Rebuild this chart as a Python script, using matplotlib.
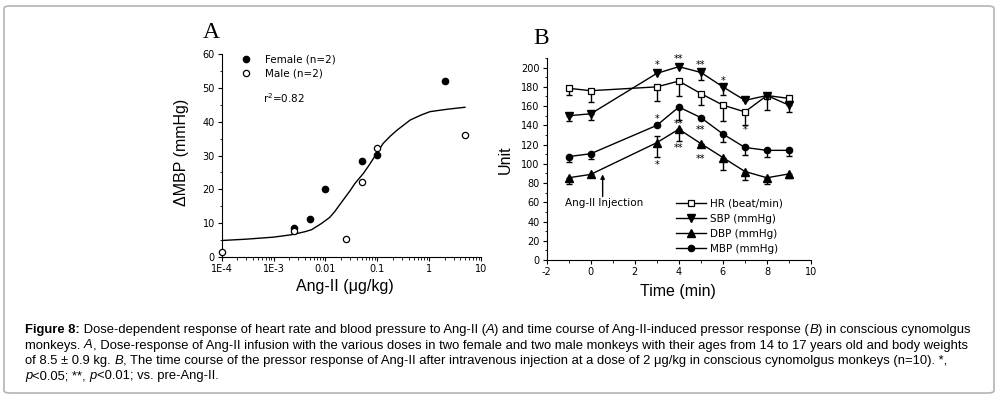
import matplotlib
matplotlib.use("Agg")
import matplotlib.pyplot as plt
from matplotlib.patches import FancyBboxPatch
from matplotlib.ticker import FixedLocator, NullFormatter, MultipleLocator

plt.rcParams["axes.unicode_minus"] = False

# ---- panel A: dose response ----
dose_female = [0.0025, 0.005, 0.01, 0.05, 0.1, 2]
mbp_female = [8.4, 11.2, 20, 28.4, 30.1, 52]
dose_male = [1e-4, 0.0025, 0.025, 0.05, 0.1, 5]
mbp_male = [1.5, 7.7, 5.2, 22.2, 32.1, 36]
fit_dose = [1e-4, 3e-4, 1e-3, 2.2e-3, 4e-3, 5.4e-3, 8.3e-3, 0.012, 0.015, 0.022,
            0.03, 0.037, 0.054, 0.07, 0.084, 0.13, 0.18, 0.24, 0.43, 0.7,
            1.04, 2.2, 4.9]
fit_mbp = [4.8, 5.2, 5.8, 6.5, 7.4, 8.0, 9.8, 11.6, 13.3, 16.8,
           19.6, 21.7, 24.7, 27.2, 29.1, 33.6, 35.8, 37.5, 40.5, 42.0,
           43.0, 43.7, 44.3]
dose_ticks = [1e-4, 1e-3, 0.01, 0.1, 1, 10]
dose_labels = ["1E-4", "1E-3", "0.01", "0.1", "1", "10"]

# ---- panel B: time course ----
time = [-1, 0, 3, 4, 5, 6, 7, 8, 9]
hr = [178.5, 176, 180, 186, 173, 161, 154, 171, 168]
hr_lo = [7, 12, 15, 16, 12, 16, 14, 0, 0]
sbp = [150, 152, 194, 201, 195, 180, 166, 171, 161]
sbp_lo = [6, 6, 0, 0, 8, 8, 0, 15, 7]
sbp_hi = [0, 0, 3, 3, 0, 0, 0, 0, 0]
dbp = [85.5, 89, 122, 136, 121, 106.5, 92, 85.5, 89.5]
dbp_lo = [6, 3, 15, 12, 0, 13, 9, 7, 4]
dbp_hi = [0, 0, 7, 0, 0, 0, 0, 0, 0]
mbp = [107.5, 110.5, 140, 159, 148, 131, 117, 114, 114]
mbp_lo = [6, 6, 0, 13, 0, 8, 8, 7, 6]
zeros = [0] * len(time)

star_x = [3, 4, 5, 6, 3, 4, 3, 4, 5, 5, 7]
star_y = [203, 209, 203, 186, 147, 141, 99, 116, 135, 105, 135]
star_txt = ["*", "**", "**", "*", "*", "**", "*", "**", "**", "**", "*"]

caption = [
    [("Figure 8:", "bold"), (" Dose-dependent response of heart rate and blood pressure to Ang-II (", ""),
     ("A", "italic"), (") and time course of Ang-II-induced pressor response (", ""), ("B", "italic"),
     (") in conscious cynomolgus", "")],
    [("monkeys. ", ""), ("A", "italic"),
     (", Dose-response of Ang-II infusion with the various doses in two female and two male monkeys with their ages from 14 to 17 years old and body weights", "")],
    [("of 8.5 ± 0.9 kg. ", ""), ("B", "italic"),
     (", The time course of the pressor response of Ang-II after intravenous injection at a dose of 2 μg/kg in conscious cynomolgus monkeys (n=10). *,", "")],
    [("p", "italic"), ("<0.05; **, ", ""), ("p", "italic"), ("<0.01; vs. pre-Ang-II.", "")],
]

W, H = 998, 398
fig = plt.figure(figsize=(W / 100, H / 100), dpi=100)
small = dict(family="DejaVu Sans", size=7)
lab = dict(family="Liberation Sans", size=11.5)

# border
fig.patches.append(FancyBboxPatch((4 / W, 5 / H), 990 / W, 387 / H,
                                  boxstyle="round,pad=0,rounding_size=0.006",
                                  transform=fig.transFigure, fc="none",
                                  ec="#b4b4b4", lw=1.2))

def style_axes(ax):
    for s in ["top", "right"]:
        ax.spines[s].set_visible(False)
    ax.tick_params(which="major", direction="out", length=3, width=0.8, pad=2)
    ax.tick_params(which="minor", direction="out", length=1.8, width=0.6)
    for t in ax.get_xticklabels() + ax.get_yticklabels():
        t.set_fontfamily(small["family"])
        t.set_fontsize(small["size"])

# ---------- A ----------
axA = fig.add_axes([221.7 / W, 1 - 256.7 / H, 259.3 / W, 202.4 / H])
axA.set_xscale("log")
axA.set_xlim(1e-4, 10)
axA.set_ylim(0, 60)
axA.plot(fit_dose, fit_mbp, color="black", lw=1)
axA.plot(dose_female, mbp_female, "o", ms=4.5, color="black", label="Female (n=2)", clip_on=False)
axA.plot(dose_male, mbp_male, "o", ms=4.5, mfc="white", mec="black", mew=0.9,
         label="Male (n=2)", clip_on=False, zorder=3)
axA.xaxis.set_major_locator(FixedLocator(dose_ticks))
axA.set_xticklabels(dose_labels)
axA.xaxis.set_minor_formatter(NullFormatter())
axA.yaxis.set_major_locator(MultipleLocator(10))
axA.yaxis.set_minor_locator(MultipleLocator(5))
style_axes(axA)
axA.set_xlabel("Ang-II (μg/kg)", **lab)
axA.set_ylabel("ΔMBP (mmHg)", **lab)
axA.xaxis.set_label_coords(0.475, -0.148)
axA.xaxis.label.set_va("center")
axA.yaxis.set_label_coords(-0.154, 0.517)
axA.yaxis.label.set_va("center")
axA.legend(loc="upper left", bbox_to_anchor=(0.075, 1.0), frameon=False,
           prop=dict(family="DejaVu Sans", size=7.5), handlelength=1,
           handletextpad=1.3, borderpad=0, borderaxespad=0, labelspacing=0.4)
axA.text(0.159, 0.785, "r$^2$=0.82", transform=axA.transAxes, ha="left", va="center",
         family="DejaVu Sans", size=7.5)
fig.text(211 / W, 1 - 33 / H, "A", family="Liberation Serif", size=17, ha="center", va="center")

# ---------- B ----------
axB = fig.add_axes([546.7 / W, 1 - 260 / H, 264.3 / W, 202 / H])
axB.set_xlim(-2, 10)
axB.set_ylim(0, 210)
eb = dict(fmt="none", ecolor="black", elinewidth=1, capsize=2, capthick=1)
axB.errorbar(time, hr, yerr=[hr_lo, zeros], **eb)
axB.errorbar(time, sbp, yerr=[sbp_lo, sbp_hi], **eb)
axB.errorbar(time, dbp, yerr=[dbp_lo, dbp_hi], **eb)
axB.errorbar(time, mbp, yerr=[mbp_lo, zeros], **eb)
axB.plot(time, hr, "-s", color="black", lw=1, ms=5, mfc="white", mew=0.9,
         label="HR (beat/min)", zorder=4)
axB.plot(time, sbp, "-v", color="black", lw=1, ms=6, label="SBP (mmHg)", zorder=4)
axB.plot(time, dbp, "-^", color="black", lw=1, ms=6, label="DBP (mmHg)", zorder=4)
axB.plot(time, mbp, "-o", color="black", lw=1, ms=4.5, label="MBP (mmHg)", zorder=4)
for x, y, s in zip(star_x, star_y, star_txt):
    axB.text(x, y, s, ha="center", va="center", family="DejaVu Sans", size=7)
axB.annotate("", xy=(0.54, 89), xytext=(0.54, 66),
             arrowprops=dict(arrowstyle="-|>", lw=1, color="black", mutation_scale=6,
                             shrinkA=0, shrinkB=0))
axB.text(-1.17, 59, "Ang-II Injection", ha="left", va="center", family="DejaVu Sans", size=7.5)
axB.xaxis.set_major_locator(MultipleLocator(2))
axB.xaxis.set_minor_locator(MultipleLocator(1))
axB.yaxis.set_major_locator(MultipleLocator(20))
axB.yaxis.set_minor_locator(MultipleLocator(10))
style_axes(axB)
axB.set_xlabel("Time (min)", **lab)
axB.set_ylabel("Unit", **lab)
axB.xaxis.set_label_coords(0.498, -0.157)
axB.xaxis.label.set_va("center")
axB.yaxis.set_label_coords(-0.158, 0.497)
axB.yaxis.label.set_va("center")
axB.legend(loc="lower left", bbox_to_anchor=(0.488, 0.03), frameon=False,
           prop=dict(family="DejaVu Sans", size=7.5), handlelength=2.9,
           handletextpad=0.4, borderpad=0, borderaxespad=0, labelspacing=0.5)
fig.text(541 / W, 1 - 39 / H, "B", family="Liberation Serif", size=17, ha="center", va="center")

# ---------- caption ----------
renderer = fig.canvas.get_renderer()
line_y = [330, 345.5, 361, 376.5]
for runs, yp in zip(caption, line_y):
    x = 25
    for txt, st in runs:
        t = fig.text(x / W, 1 - yp / H, txt, family="Liberation Sans", size=9.4,
                     va="center", ha="left",
                     weight="bold" if st == "bold" else "normal",
                     style="italic" if st == "italic" else "normal")
        x = t.get_window_extent(renderer).x1

fig.savefig("out.png", dpi=100)
